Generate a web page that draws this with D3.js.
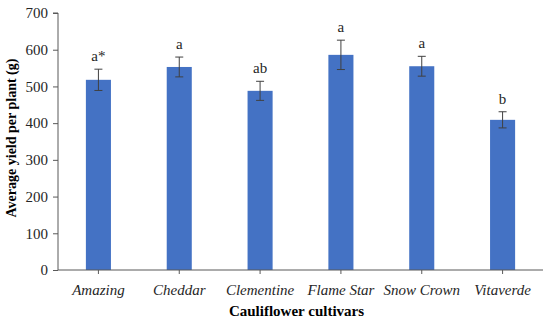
<!DOCTYPE html>
<html lang="en">
<head>
<meta charset="utf-8">
<title>Cauliflower yield</title>
<style>
  body { margin: 0; background: #fff; }
  .bar { fill: #4472c4; }
  .axis text { font-family: "Liberation Serif", serif; font-size: 15px; fill: #262626; }
  .axis path, .axis line { stroke: #595959; }
  .err { stroke: #404040; stroke-width: 1; }
  .letter { font-family: "Liberation Serif", serif; font-size: 15px; fill: #262626; }
  .title { font-family: "Liberation Serif", serif; font-weight: bold; font-size: 15px; fill: #000; }
</style>
<script src="https://d3js.org/d3.v7.min.js"></script>
</head>
<body>
<svg width="550" height="322"></svg>
<script>
// data
var cultivars = ["Amazing", "Cheddar", "Clementine", "Flame Star", "Snow Crown", "Vitaverde"];
var yields = [518, 553, 488, 586, 555, 409];
var errors = [29, 27, 26, 40, 27, 22];
var letters = ["a*", "a", "ab", "a", "a", "b"];
var yTicks = [0, 100, 200, 300, 400, 500, 600, 700];

var data = cultivars.map(function(c, i) {
  return { name: c, value: yields[i], err: errors[i], letter: letters[i] };
});

var svg = d3.select("svg");
var margin = { left: 58, right: 7, top: 13, bottom: 52 };
var w = 550 - margin.left - margin.right;
var h = 322 - margin.top - margin.bottom;

var g = svg.append("g")
  .attr("transform", "translate(" + margin.left + "," + margin.top + ")");

var x = d3.scaleBand().domain(cultivars).range([0, w]).paddingInner(0.69).paddingOuter(0.345);
var y = d3.scaleLinear().domain([0, 700]).range([h, 0]);

g.selectAll(".bar")
  .data(data)
  .enter()
  .append("rect")
  .attr("class", "bar")
  .attr("x", function(d) { return x(d.name); })
  .attr("y", function(d) { return y(d.value); })
  .attr("width", x.bandwidth())
  .attr("height", function(d) { return h - y(d.value); });

// error bars + significance letters
var eb = g.selectAll(".eb")
  .data(data)
  .enter()
  .append("g")
  .attr("class", "eb")
  .attr("transform", function(d) { return "translate(" + (x(d.name) + x.bandwidth() / 2) + ",0)"; });

eb.append("line").attr("class", "err")
  .attr("x1", 0).attr("x2", 0)
  .attr("y1", function(d) { return y(d.value + d.err); })
  .attr("y2", function(d) { return y(d.value - d.err); });
eb.append("line").attr("class", "err")
  .attr("x1", -4).attr("x2", 4)
  .attr("y1", function(d) { return y(d.value + d.err); })
  .attr("y2", function(d) { return y(d.value + d.err); });
eb.append("line").attr("class", "err")
  .attr("x1", -4).attr("x2", 4)
  .attr("y1", function(d) { return y(d.value - d.err); })
  .attr("y2", function(d) { return y(d.value - d.err); });

eb.append("text")
  .attr("class", "letter")
  .attr("text-anchor", "middle")
  .attr("y", function(d) { return y(d.value + d.err) - 8; })
  .text(function(d) { return d.letter; });

// axes
g.append("g")
  .attr("class", "axis")
  .call(d3.axisLeft(y).tickValues(yTicks).tickSize(5).tickPadding(5))
  .call(function(a) { a.select(".domain").attr("d", "M0," + h + "V0h-5"); });

var xAxis = g.append("g")
  .attr("class", "axis")
  .attr("transform", "translate(0," + h + ")")
  .call(d3.axisBottom(x).tickSize(4).tickPadding(7));
xAxis.select(".domain").attr("d", "M0,0H" + w);
xAxis.selectAll("text").style("font-style", "italic").attr("dy", "0.9em");

svg.append("text")
  .attr("class", "title")
  .attr("text-anchor", "middle")
  .attr("x", margin.left + w / 2 - 4)
  .attr("y", 316)
  .text("Cauliflower cultivars");

svg.append("text")
  .attr("class", "title")
  .attr("text-anchor", "middle")
  .style("font-size", "14px")
  .attr("transform", "translate(16,138) rotate(-90)")
  .text("Average yield per plant (g)");
</script>
</body>
</html>
